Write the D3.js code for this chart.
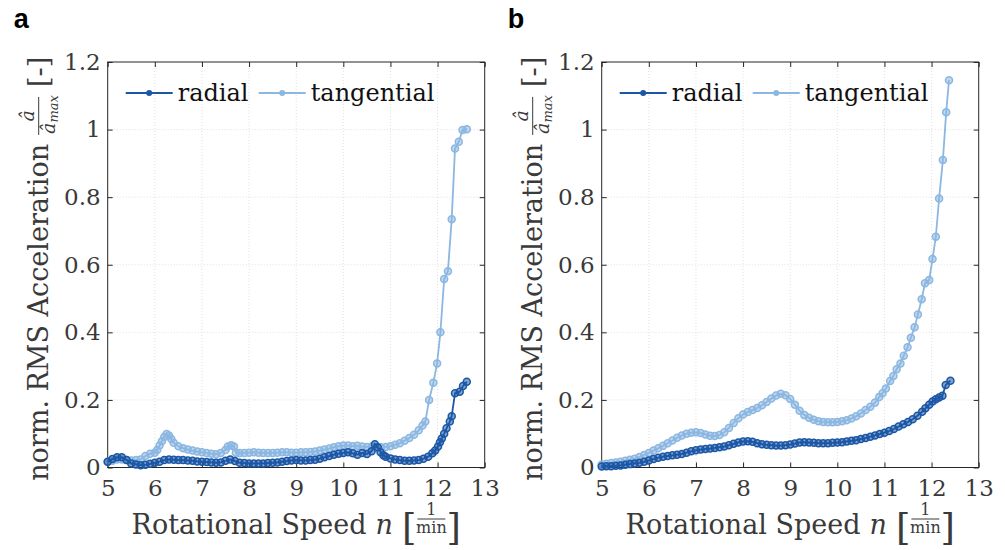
<!DOCTYPE html>
<html>
<head>
<meta charset="utf-8">
<script src="https://cdn.jsdelivr.net/npm/d3@7/dist/d3.min.js"></script>
<style>
  body { margin: 0; background: #fff; }
  text { font-family: "DejaVu Serif", serif; }
</style>
</head>
<body>
<div id="chart"></div>
<script>
// ---- data ----
var xTicks = [5, 6, 7, 8, 9, 10, 11, 12, 13];
var yTicks = [0, 0.2, 0.4, 0.6, 0.8, 1, 1.2];
var yTickLabels = ["0", "0.2", "0.4", "0.6", "0.8", "1", "1.2"];
var seriesNames = ["radial", "tangential"];
var panelLetters = ["a", "b"];

// panel a
var speedTangA = [5.0,5.1,5.2,5.3,5.4,5.5,5.6,5.7,5.8,5.9,6.0,6.05,6.1,6.15,6.2,6.25,6.3,6.35,6.4,6.5,6.6,6.7,6.8,6.9,7.0,7.1,7.2,7.3,7.4,7.5,7.55,7.62,7.68,7.72,7.8,7.9,8.0,8.1,8.2,8.3,8.4,8.5,8.6,8.7,8.8,8.9,9.0,9.1,9.2,9.3,9.4,9.5,9.6,9.7,9.8,9.9,10.0,10.1,10.2,10.3,10.4,10.5,10.6,10.7,10.8,10.9,11.0,11.1,11.2,11.3,11.4,11.5,11.6,11.68,11.74,11.82,11.91,11.99,12.06,12.14,12.22,12.3,12.37,12.45,12.53,12.62];
var accTangA = [0.016,0.02,0.024,0.024,0.022,0.021,0.022,0.024,0.034,0.041,0.044,0.052,0.065,0.078,0.09,0.099,0.095,0.084,0.073,0.063,0.057,0.053,0.05,0.047,0.045,0.043,0.041,0.039,0.043,0.052,0.062,0.066,0.062,0.044,0.043,0.043,0.044,0.045,0.044,0.043,0.043,0.043,0.044,0.045,0.045,0.044,0.044,0.045,0.045,0.046,0.047,0.05,0.053,0.056,0.06,0.063,0.065,0.065,0.063,0.064,0.062,0.061,0.062,0.06,0.06,0.061,0.063,0.067,0.072,0.079,0.087,0.097,0.11,0.124,0.136,0.2,0.251,0.308,0.4,0.558,0.581,0.735,0.944,0.964,0.999,1.001];
var speedRadA = [5.0,5.1,5.2,5.3,5.4,5.5,5.6,5.7,5.8,5.9,6.0,6.1,6.2,6.3,6.4,6.5,6.6,6.7,6.8,6.9,7.0,7.1,7.2,7.3,7.4,7.5,7.6,7.7,7.8,7.9,8.0,8.1,8.2,8.3,8.4,8.5,8.6,8.7,8.8,8.9,9.0,9.1,9.2,9.3,9.4,9.5,9.6,9.7,9.8,9.9,10.0,10.1,10.2,10.3,10.4,10.5,10.6,10.67,10.73,10.79,10.85,10.9,11.0,11.1,11.2,11.3,11.4,11.5,11.6,11.7,11.8,11.89,11.95,12.01,12.05,12.09,12.14,12.19,12.26,12.3,12.37,12.47,12.54,12.62];
var accRadA = [0.017,0.025,0.03,0.03,0.022,0.012,0.009,0.007,0.008,0.011,0.014,0.017,0.022,0.024,0.023,0.022,0.022,0.021,0.02,0.018,0.017,0.016,0.015,0.014,0.015,0.02,0.024,0.019,0.014,0.013,0.012,0.012,0.012,0.012,0.013,0.014,0.015,0.017,0.019,0.021,0.022,0.021,0.021,0.022,0.023,0.026,0.03,0.034,0.038,0.041,0.043,0.045,0.042,0.038,0.043,0.04,0.048,0.069,0.06,0.045,0.036,0.032,0.027,0.024,0.022,0.02,0.02,0.021,0.022,0.026,0.032,0.042,0.05,0.062,0.075,0.086,0.1,0.116,0.136,0.152,0.22,0.224,0.241,0.254];

// panel b
var speedTangB = [5.0,5.1,5.2,5.3,5.4,5.5,5.6,5.7,5.8,5.9,6.0,6.1,6.2,6.3,6.4,6.5,6.6,6.7,6.8,6.9,7.0,7.1,7.2,7.3,7.4,7.5,7.6,7.7,7.8,7.9,8.0,8.1,8.2,8.3,8.4,8.5,8.6,8.7,8.8,8.9,9.0,9.1,9.2,9.3,9.4,9.5,9.6,9.7,9.8,9.9,10.0,10.1,10.2,10.3,10.4,10.5,10.6,10.7,10.8,10.89,10.96,11.03,11.12,11.19,11.26,11.34,11.41,11.49,11.56,11.64,11.71,11.79,11.86,11.95,12.02,12.09,12.16,12.24,12.31,12.37];
var accTangB = [0.009,0.011,0.013,0.015,0.017,0.02,0.023,0.026,0.031,0.037,0.043,0.05,0.057,0.064,0.072,0.08,0.088,0.095,0.1,0.103,0.104,0.102,0.098,0.094,0.093,0.096,0.104,0.117,0.132,0.146,0.157,0.164,0.17,0.176,0.184,0.194,0.204,0.213,0.218,0.214,0.203,0.186,0.168,0.155,0.147,0.141,0.137,0.135,0.134,0.134,0.135,0.137,0.14,0.145,0.152,0.16,0.17,0.18,0.192,0.209,0.22,0.234,0.256,0.271,0.291,0.308,0.331,0.356,0.384,0.415,0.453,0.498,0.545,0.555,0.617,0.683,0.796,0.91,1.051,1.146];
var speedRadB = [5.0,5.1,5.2,5.3,5.4,5.5,5.6,5.7,5.8,5.9,6.0,6.1,6.2,6.3,6.4,6.5,6.6,6.7,6.8,6.9,7.0,7.1,7.2,7.3,7.4,7.5,7.6,7.7,7.8,7.9,8.0,8.1,8.2,8.3,8.4,8.5,8.6,8.7,8.8,8.9,9.0,9.1,9.2,9.3,9.4,9.5,9.6,9.7,9.8,9.9,10.0,10.1,10.2,10.3,10.4,10.5,10.6,10.7,10.8,10.9,11.0,11.1,11.2,11.3,11.4,11.5,11.6,11.7,11.8,11.87,11.95,12.02,12.09,12.16,12.23,12.3,12.4];
var accRadB = [0.003,0.004,0.004,0.005,0.006,0.008,0.01,0.012,0.014,0.017,0.021,0.025,0.029,0.032,0.034,0.036,0.038,0.04,0.044,0.048,0.051,0.053,0.055,0.056,0.058,0.06,0.062,0.066,0.07,0.074,0.077,0.078,0.076,0.072,0.069,0.067,0.066,0.065,0.065,0.066,0.068,0.071,0.074,0.075,0.074,0.073,0.072,0.072,0.072,0.073,0.074,0.075,0.077,0.079,0.081,0.084,0.087,0.091,0.095,0.099,0.103,0.108,0.114,0.121,0.128,0.135,0.143,0.153,0.165,0.175,0.186,0.195,0.202,0.207,0.212,0.244,0.257];

var colRad = "#1b57a6";
var colTang = "#8bb7e1";
var axisCol = "#262626";
var textCol = "#3a3a3a";
var serif = "'DejaVu Serif', serif";

var svg = d3.select("#chart").append("svg")
  .attr("width", 1005)
  .attr("height", 550);

function zip(xs, ys) {
  return xs.map(function(d, i) { return [d, ys[i]]; });
}

function drawPanel(left, letter, radial, tang) {
  var right = left + 377, top = 62, bottom = 467.5;
  var x = d3.scaleLinear().domain([5, 13]).range([left, right]);
  var y = d3.scaleLinear().domain([0, 1.2]).range([bottom, top]);
  var g = svg.append("g");

  // grid
  g.selectAll(".gx").data(xTicks.slice(1, -1)).enter().append("line")
    .attr("x1", function(d) { return x(d); }).attr("x2", function(d) { return x(d); })
    .attr("y1", top).attr("y2", bottom)
    .attr("stroke", "#d8d8d8").attr("stroke-width", 0.8).attr("stroke-dasharray", "1,2");
  g.selectAll(".gy").data(yTicks.slice(1, -1)).enter().append("line")
    .attr("y1", function(d) { return y(d); }).attr("y2", function(d) { return y(d); })
    .attr("x1", left).attr("x2", right)
    .attr("stroke", "#d8d8d8").attr("stroke-width", 0.8).attr("stroke-dasharray", "1,2");

  // axes, ticks pointing inside
  g.append("g").attr("transform", "translate(0," + bottom + ")")
    .call(d3.axisBottom(x).tickValues(xTicks).tickSize(-5).tickSizeOuter(0).tickPadding(12));
  g.append("g").attr("transform", "translate(" + left + ",0)")
    .call(d3.axisLeft(y).tickValues(yTicks).tickSize(-5).tickSizeOuter(0).tickPadding(7)
      .tickFormat(function(d, i) { return yTickLabels[i]; }));
  g.append("g").attr("transform", "translate(0," + top + ")")
    .call(d3.axisTop(x).tickValues(xTicks).tickSize(-5).tickSizeOuter(0).tickFormat(""));
  g.append("g").attr("transform", "translate(" + right + ",0)")
    .call(d3.axisRight(y).tickValues(yTicks).tickSize(-5).tickSizeOuter(0).tickFormat(""));
  g.selectAll(".domain").remove();
  g.selectAll(".tick line").attr("stroke", axisCol);
  g.selectAll(".tick text").attr("fill", textCol)
    .style("font-family", serif).style("font-size", "23px");
  g.append("rect").attr("x", left).attr("y", top)
    .attr("width", right - left).attr("height", bottom - top)
    .attr("fill", "none").attr("stroke", axisCol).attr("stroke-width", 1);

  // series, radial on top
  var line = d3.line().x(function(d) { return x(d[0]); }).y(function(d) { return y(d[1]); });
  [[tang, colTang], [radial, colRad]].forEach(function(s) {
    g.append("path").datum(s[0]).attr("d", line)
      .attr("fill", "none").attr("stroke", s[1]).attr("stroke-width", 1.8);
    g.selectAll(null).data(s[0]).enter().append("circle")
      .attr("cx", function(d) { return x(d[0]); })
      .attr("cy", function(d) { return y(d[1]); })
      .attr("r", 3.5)
      .attr("fill", s[1]).attr("fill-opacity", 0.55)
      .attr("stroke", s[1]).attr("stroke-width", 1.5);
  });

  // legend
  var leg = [[seriesNames[0], colRad, 18, 70], [seriesNames[1], colTang, 151, 203]];
  leg.forEach(function(l) {
    g.append("line").attr("x1", left + l[2]).attr("x2", left + l[2] + 47)
      .attr("y1", 93).attr("y2", 93).attr("stroke", l[1]).attr("stroke-width", 2);
    g.append("circle").attr("cx", left + l[2] + 23.5).attr("cy", 93).attr("r", 3)
      .attr("fill", l[1]);
    g.append("text").attr("x", left + l[3]).attr("y", 101)
      .style("font-family", serif).style("font-size", "24px").attr("fill", "#111").text(l[0]);
  });

  // panel letter
  svg.append("text").attr("x", left - 94).attr("y", 28)
    .style("font-family", "'Liberation Sans', Arial, sans-serif")
    .style("font-weight", "bold").style("font-size", "27px").attr("fill", "#000")
    .text(letter);

  // x label: Rotational Speed n [1/min]
  var xl = svg.append("g");
  var t1 = xl.append("text").attr("x", 0).attr("y", 0).style("font-size", "27px")
    .attr("fill", textCol).text("Rotational Speed");
  var cx = t1.node().getComputedTextLength() + 9;
  var t2 = xl.append("text").attr("x", cx).attr("y", 0).style("font-size", "27px")
    .style("font-style", "italic").attr("fill", textCol).text("n");
  cx += t2.node().getComputedTextLength() + 9;
  var b1 = xl.append("text").attr("x", cx).attr("y", 6).style("font-size", "37px")
    .attr("fill", textCol).text("[");
  cx += b1.node().getComputedTextLength() + 1;
  var fw = 28;
  xl.append("text").attr("x", cx + fw / 2).attr("y", -19).attr("text-anchor", "middle")
    .style("font-size", "16px").attr("fill", textCol).text("1");
  xl.append("line").attr("x1", cx).attr("x2", cx + fw).attr("y1", -15).attr("y2", -15)
    .attr("stroke", textCol).attr("stroke-width", 1);
  xl.append("text").attr("x", cx + fw / 2).attr("y", -1).attr("text-anchor", "middle")
    .style("font-size", "16px").attr("fill", textCol).text("min");
  cx += fw + 1;
  var b2 = xl.append("text").attr("x", cx).attr("y", 6).style("font-size", "37px")
    .attr("fill", textCol).text("]");
  cx += b2.node().getComputedTextLength();
  xl.attr("transform", "translate(" + ((left + right) / 2 - cx / 2) + ",534)");

  // y label: norm. RMS Acceleration â/â_max [-]
  var yl = svg.append("g");
  var u1 = yl.append("text").attr("x", 0).attr("y", 0).style("font-size", "27px")
    .attr("fill", textCol).text("norm. RMS Acceleration");
  var cu = u1.node().getComputedTextLength() + 9;
  var fw2 = 38;
  yl.append("text").attr("x", cu + fw2 / 2).attr("y", -14).attr("text-anchor", "middle")
    .style("font-size", "19px").style("font-style", "italic").attr("fill", textCol).text("\u00e2");
  yl.append("line").attr("x1", cu).attr("x2", cu + fw2).attr("y1", -9).attr("y2", -9)
    .attr("stroke", textCol).attr("stroke-width", 1);
  var den = yl.append("text").attr("x", cu + 1).attr("y", 7)
    .style("font-size", "19px").style("font-style", "italic").attr("fill", textCol);
  den.append("tspan").text("\u00e2");
  den.append("tspan").attr("dy", 3).style("font-size", "13px").text("max");
  cu += fw2 + 10;
  var u3 = yl.append("text").attr("x", cu).attr("y", 0).style("font-size", "27px")
    .attr("fill", textCol).text("[-]");
  cu += u3.node().getComputedTextLength();
  yl.attr("transform", "translate(" + (left - 60) + "," + ((top + bottom) / 2 + cu / 2 + 4) + ") rotate(-90)");
}

drawPanel(107.7, panelLetters[0], zip(speedRadA, accRadA), zip(speedTangA, accTangA));
drawPanel(601.7, panelLetters[1], zip(speedRadB, accRadB), zip(speedTangB, accTangB));
</script>
</body>
</html>
